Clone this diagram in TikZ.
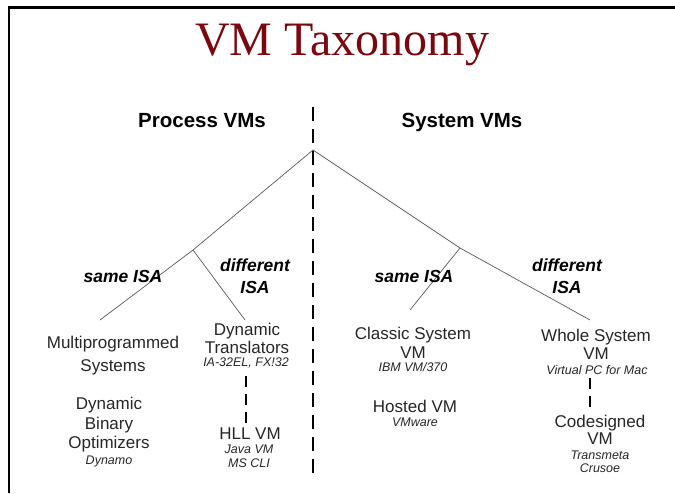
\documentclass[tikz,border=0pt]{standalone}
\usepackage{fontspec}
\setmainfont{Liberation Sans}
\newfontfamily\titlefont{Liberation Serif}
\definecolor{titlered}{RGB}{122,8,14}

\tikzset{
  title/.style={font=\titlefont\fontsize{48}{54}\selectfont,text=titlered,inner sep=0pt,anchor=base},
  head/.style={font=\fontsize{20.5}{24}\selectfont\bfseries,inner sep=0pt,anchor=base},
  isa/.style={font=\fontsize{17.5}{22}\selectfont\bfseries\itshape,align=center,inner sep=0pt,anchor=base},
  leaf/.style={font=\fontsize{17}{19}\selectfont,text=black!85,align=center,inner sep=0pt,anchor=base},
  eg/.style={font=\fontsize{12.5}{14}\selectfont\itshape,text=black!85,align=center,inner sep=0pt,anchor=base},
  branch/.style={draw=black!65,line width=0.7pt},
  sep/.style={line width=2.2pt,dash pattern=on 14pt off 8pt},
  link/.style={line width=2pt,dash pattern=on 11pt off 7pt}
}

\begin{document}
\begin{tikzpicture}[x=1pt,y=-1pt]
\useasboundingbox (0,0) rectangle (675,493);
% frame
\draw[line width=2.6pt] (9,493) -- (9,7.5) -- (675,7.5);

% headings
\node[title] (title) at (342,55) {VM Taxonomy};
\node[head] (proc) at (202,127) {Process VMs};
\node[head] (sys) at (462,127) {System VMs};

% tree points
\coordinate (top) at (313,107);
\coordinate (bot) at (313,478);
\coordinate (root) at (313,150);
\coordinate (pbr) at (193,250);
\coordinate (sbr) at (460,248);
\coordinate (pend1) at (100,320);
\coordinate (pend2) at (245,320);
\coordinate (send1) at (410,310);
\coordinate (send2) at (590,320);

\draw[sep] (top) -- (bot);

\draw[branch] (root) -- (pbr) -- (pend1);
\draw[branch] (pbr) -- (pend2);
\draw[branch] (root) -- (sbr) -- (send2);
\draw[branch] (sbr) -- (send1);

% branch labels (base = last line)
\node[isa] (psame) at (123,282) {same ISA};
\node[isa] (pdiff) at (255,293) {different\\ISA};
\node[isa] (ssame) at (414,282) {same ISA};
\node[isa] (sdiff) at (567,293) {different\\ISA};

% process VMs
\node[leaf] (multi) at (113,371) {Multiprogrammed\\[4pt]Systems};
\node[leaf] (dbo) at (109,448) {Dynamic\\[1pt]Binary\\Optimizers};
\node[eg] (dynamo) at (109,464.5) {Dynamo};
\node[leaf] (dt) at (247,353) {Dynamic\\[-1pt]Translators};
\node[eg] (dteg) at (246,366.5) {IA-32EL, FX!32};
\node[leaf] (hll) at (250,439) {HLL VM};
\node[eg] (hlleg) at (249,467.5) {Java VM\\MS CLI};

% system VMs
\node[leaf] (classic) at (413,358) {Classic System\\VM};
\node[eg] (classiceg) at (413,371.5) {IBM VM/370};
\node[leaf] (hosted) at (415,412) {Hosted VM};
\node[eg] (hostedeg) at (415,426.5) {VMware};
\node[leaf] (whole) at (596,359) {Whole System\\[-1pt]VM};
\node[eg] (wholeeg) at (597,374.5) {Virtual PC for Mac};
\node[leaf] (codes) at (600,444) {Codesigned\\[-2pt]VM};
\node[eg] (codeseg) at (600,472.5) {Transmeta\\[-1pt]Crusoe};

\draw[link,shorten <=8pt] (dteg.south) -- (dteg.south |- hll.north);
\draw[link,shorten <=3pt,shorten >=2pt] (send2 |- wholeeg.south) -- (send2 |- codes.north);
\end{tikzpicture}
\end{document}
